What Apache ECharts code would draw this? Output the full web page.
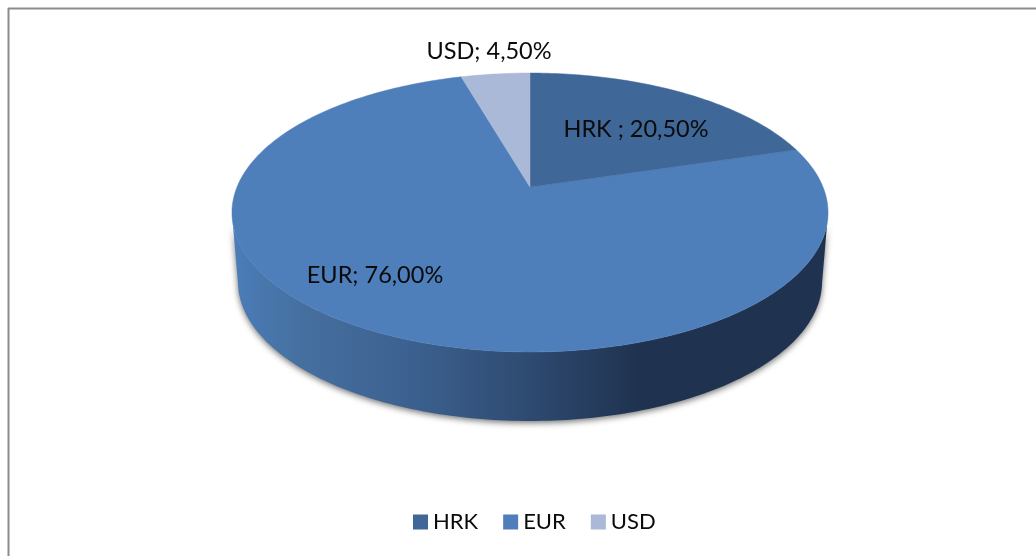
<!DOCTYPE html>
<html>
<head>
<meta charset="utf-8">
<style>html,body{margin:0;padding:0;background:#fff}#c{width:1036px;height:556px}</style>
<script src="https://cdn.jsdelivr.net/npm/echarts@6/dist/echarts.min.js"></script>
</head>
<body>
<div id="c"></div>
<script>
const categories = ['HRK', 'EUR', 'USD'];
const shares = [20.5, 76.0, 4.5];
const labels = ['HRK ; 20,50%', 'EUR; 76,00%', 'USD; 4,50%'];
const colors = ['#3f6797', '#4e7fba', '#a9b9d7'];

// Perspective of the tilted disc
const CX = 530, APEX_Y = 187, A = 293, B = 134.8, K = 0.183, DEPTH = 69, BOTTOM_SCALE = 0.98;
const FONT = 'Lato, Carlito, sans-serif';
const labelCenters = [[636, 129], [375, 275], [489, 51]];
const total = shares.reduce((a, b) => a + b, 0);

function project(deg, drop, s) {
  const t = deg * Math.PI / 180, X = Math.sin(t), Y = Math.cos(t), w = 1 + K * Y;
  return [CX + s * A * X / w, APEX_Y - B * Y / w + drop];
}
function sectorRange(i) {
  const before = shares.slice(0, i).reduce((a, b) => a + b, 0);
  return [before / total * 360, (before + shares[i]) / total * 360];
}
function arc(a0, a1, drop, s) {
  const pts = [], n = Math.max(2, Math.ceil(Math.abs(a1 - a0)));
  for (let j = 0; j <= n; j++) pts.push(project(a0 + (a1 - a0) * j / n, drop, s));
  return pts;
}
const wallFill = {
  type: 'linear', x: 232, y: 0, x2: 828, y2: 0, global: true,
  colorStops: [
    { offset: 0, color: '#4b7db8' },
    { offset: 0.12, color: '#456f9f' },
    { offset: 0.3, color: '#3c6190' },
    { offset: 0.5, color: '#2e4a70' },
    { offset: 0.68, color: '#1f3350' },
    { offset: 1, color: '#1f3350' }
  ]
};
function renderSector(i) {
  return function () {
    const [a0, a1] = sectorRange(i);
    const children = [];
    const front = [];
    for (let d = Math.ceil(a0); d <= a1; d++) {
      if (project(d, 0, 1)[1] >= 212) front.push(d);
    }
    if (front.length > 1) {
      const lo = front[0], hi = front[front.length - 1];
      const poly = arc(lo, hi, 0, 1).concat(arc(hi, lo, DEPTH, BOTTOM_SCALE));
      children.push({
        type: 'polygon', z2: 1,
        shape: { points: poly },
        style: { fill: wallFill, shadowBlur: 6, shadowColor: 'rgba(0,0,0,0.55)', shadowOffsetY: 2 }
      });
    }
    children.push({
      type: 'polygon', z2: 2,
      shape: { points: [[CX, APEX_Y]].concat(arc(a0, a1, 0, 1)) },
      style: { fill: colors[i], stroke: colors[i], lineWidth: 0.5 }
    });
    children.push({
      type: 'text', z2: 3,
      style: {
        text: labels[i], x: labelCenters[i][0], y: labelCenters[i][1],
        align: 'center', verticalAlign: 'middle',
        font: '23.5px ' + FONT, fill: '#0a0a0a'
      }
    });
    return { type: 'group', children };
  };
}
const chart = echarts.init(document.getElementById('c'), null, { renderer: 'canvas' });
chart.setOption({
  animation: false,
  backgroundColor: '#ffffff',
  legend: {
    data: categories,
    left: 413, top: 511,
    icon: 'rect', itemWidth: 15, itemHeight: 15, itemGap: 25,
    textStyle: { fontFamily: FONT, fontSize: 22, color: '#0a0a0a' },
    padding: 0
  },
  graphic: [
    { type: 'line', silent: true, shape: { x1: 8, y1: 8.5, x2: 1036, y2: 8.5 }, style: { stroke: '#8c8c8c', lineWidth: 2 } },
    { type: 'line', silent: true, shape: { x1: 8.5, y1: 8, x2: 8.5, y2: 556 }, style: { stroke: '#8c8c8c', lineWidth: 2 } }
  ],
  series: categories.map((name, i) => ({
    type: 'custom', name, coordinateSystem: 'none',
    itemStyle: { color: colors[i] },
    z: i === 1 ? 1 : 2,
    data: [[shares[i]]],
    renderItem: renderSector(i)
  }))
});
</script>
</body>
</html>
